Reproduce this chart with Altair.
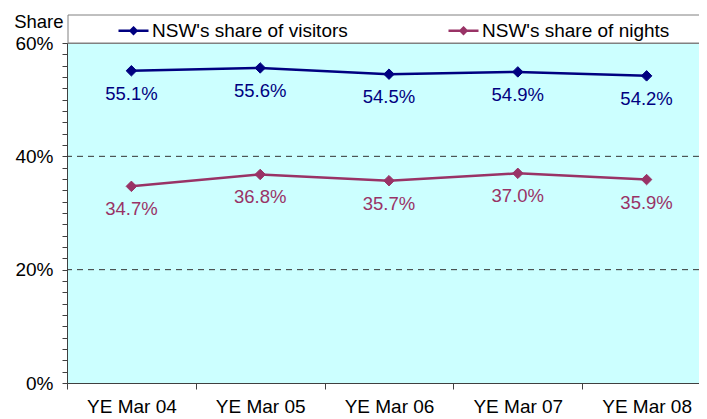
import altair as alt
import pandas as pd

periods = ["YE Mar 04", "YE Mar 05", "YE Mar 06", "YE Mar 07", "YE Mar 08"]
visitors_share = [0.551, 0.556, 0.545, 0.549, 0.542]
nights_share = [0.347, 0.368, 0.357, 0.370, 0.359]
series_names = ["NSW's share of visitors", "NSW's share of nights"]
series_colors = ["#000080", "#993366"]
grid_values = [0.2, 0.4]
y_ticks = [0.0, 0.02, 0.04, 0.06, 0.08, 0.1, 0.12, 0.14, 0.16, 0.18,
           0.2, 0.22, 0.24, 0.26, 0.28, 0.3, 0.32, 0.34, 0.36, 0.38,
           0.4, 0.42, 0.44, 0.46, 0.48, 0.5, 0.52, 0.54, 0.56, 0.58, 0.6]

rows = []
for p, v in zip(periods, visitors_share):
    rows.append({"period": p, "share": v, "series": series_names[0]})
for p, v in zip(periods, nights_share):
    rows.append({"period": p, "share": v, "series": series_names[1]})
df = pd.DataFrame(rows)

FONT = "Liberation Sans"

x_enc = alt.X("period:N", sort=periods, title=None,
              scale=alt.Scale(paddingInner=0, paddingOuter=0, range=[0, 644]),
              axis=alt.Axis(labelAngle=0, labelFontSize=19, labelColor="black",
                            labelFont=FONT, tickBand="extent", tickSize=6,
                            tickColor="#404040", domainColor="#404040",
                            labelPadding=8))
y_scale = alt.Scale(domain=[0, 0.6], nice=False, zero=True)
y_axis = alt.Axis(values=y_ticks, format=".0%",
                  labelExpr="round(datum.value*100) % 20 == 0 ? datum.label : ''",
                  labelOverlap=False, labelFlush=False, labelBound=False,
                  labelFontSize=19, labelColor="black", labelFont=FONT,
                  tickSize=5, tickColor="#404040", domainColor="#404040",
                  labelPadding=9, grid=False,
                  title="Share", titleAngle=0, titleAlign="right",
                  titleBaseline="alphabetic", titleX=-4, titleY=-16,
                  titleFontSize=18.5, titleFont=FONT, titleFontWeight="normal",
                  titleColor="black")
y_enc = alt.Y("share:Q", scale=y_scale, axis=y_axis)

color_scale = alt.Scale(domain=series_names, range=series_colors)

legend = alt.Legend(
    title=None, orient="none", legendX=50, legendY=-29, direction="horizontal",
    symbolType="M-1,0L1,0M0,-0.2L0.2,0L0,0.2L-0.2,0Z",
    symbolSize=900, symbolStrokeWidth=2.5, labelFontSize=19, labelFont=FONT,
    labelColor="black", labelOffset=2, columnPadding=95, labelLimit=400,
    zindex=2,
)
color_enc = alt.Color("series:N", scale=color_scale, legend=legend)

base = alt.Chart(df)

legend_box = alt.Chart(pd.DataFrame({"a": [0]})).mark_rect(
    fill="white", stroke="#808080", strokeWidth=1
).encode(x=alt.value(1), x2=alt.value(660), y=alt.value(-28), y2=alt.value(0))

grid = alt.Chart(pd.DataFrame({"share": grid_values})).mark_rule(
    color="#333333", strokeWidth=1, strokeDash=[6, 5]
).encode(y=y_enc)

lines = base.mark_line(strokeWidth=2.5).encode(
    x=x_enc, y=y_enc, color=color_enc, detail="series:N",
)

points = base.mark_point(filled=True, shape="diamond", size=110, opacity=1, strokeWidth=1).encode(
    x=x_enc, y=y_enc, color=color_enc,
    stroke=alt.Stroke("series:N", scale=color_scale, legend=legend),
)

labels = base.mark_text(dy=23, fontSize=18.5, font=FONT, baseline="middle").encode(
    x=x_enc, y=y_enc,
    text=alt.Text("share:Q", format=".1%"),
    color=color_enc,
)

chart = alt.layer(legend_box, grid, lines, points, labels).properties(
    width=632, height=340,
    autosize=alt.AutoSizeParams(type="none"),
    padding={"left": 59, "top": 35, "right": 0, "bottom": 36},
).configure_view(fill="#CCFFFF", stroke="#808080", strokeWidth=1)

chart.save("out.html", embed_options={"renderer": "svg", "actions": False})
